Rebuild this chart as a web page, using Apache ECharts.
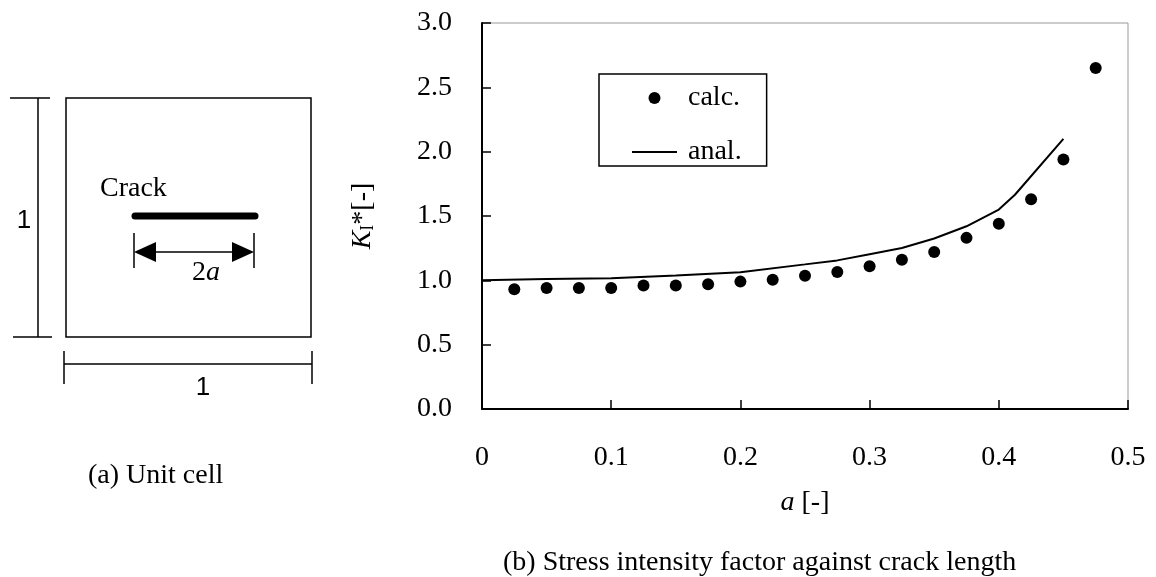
<!DOCTYPE html>
<html>
<head>
<meta charset="utf-8">
<style>
html,body{margin:0;padding:0;background:#fff;}
#chart{width:1156px;height:577px;}
</style>
<script src="https://cdn.jsdelivr.net/npm/echarts@6/dist/echarts.min.js"></script>
</head>
<body>
<div id="chart"></div>
<script>
// ---- data ----
const calcA = [0.025, 0.05, 0.075, 0.1, 0.125, 0.15, 0.175, 0.2, 0.225, 0.25, 0.275, 0.3, 0.325, 0.35, 0.375, 0.4, 0.425, 0.45, 0.475];
const calcK = [0.93, 0.94, 0.94, 0.94, 0.96, 0.96, 0.97, 0.99, 1.005, 1.035, 1.065, 1.11, 1.16, 1.22, 1.33, 1.44, 1.63, 1.94, 2.65];
const analA = [0, 0.05, 0.1, 0.15, 0.2, 0.25, 0.275, 0.3, 0.325, 0.35, 0.375, 0.4, 0.4125, 0.45];
const analK = [1.0, 1.01, 1.017, 1.037, 1.063, 1.124, 1.155, 1.203, 1.251, 1.325, 1.42, 1.55, 1.665, 2.10];
const xTicks = [0, 0.1, 0.2, 0.3, 0.4, 0.5];
const yTicks = [0, 0.5, 1.0, 1.5, 2.0, 2.5, 3.0];
const seriesNames = ['calc.', 'anal.'];

const SERIF = '"Liberation Serif", "Times New Roman", serif';
const SANS = '"Liberation Sans", Arial, sans-serif';

const chart = echarts.init(document.getElementById('chart'), null, {renderer: 'canvas'});

const option = {
  animation: false,
  backgroundColor: '#fff',
  textStyle: {fontFamily: SERIF, color: '#000'},
  grid: {left: 482, right: 28, top: 23, bottom: 168, show: true, borderColor: '#999', borderWidth: 1, backgroundColor: 'transparent'},
  xAxis: {
    type: 'value', min: xTicks[0], max: xTicks[xTicks.length - 1], interval: 0.1,
    axisLine: {show: true, onZero: false, lineStyle: {color: '#000', width: 2}},
    axisTick: {show: true, inside: true, length: 9, lineStyle: {color: '#000', width: 1.5}},
    splitLine: {show: false},
    axisLabel: {margin: 35, fontSize: 28, fontFamily: SERIF, color: '#000',
      formatter: v => (v === 0 ? '0' : v.toFixed(1))},
    name: '{i|a}{n| [-]}', nameLocation: 'middle', nameGap: 80,
    nameTextStyle: {rich: {
      i: {fontFamily: SERIF, fontSize: 28, fontStyle: 'italic', color: '#000'},
      n: {fontFamily: SERIF, fontSize: 28, color: '#000'}
    }}
  },
  yAxis: {
    type: 'value', min: yTicks[0], max: yTicks[yTicks.length - 1], interval: 0.5,
    axisLine: {show: true, onZero: false, lineStyle: {color: '#000', width: 2}},
    axisTick: {show: true, inside: true, length: 9, lineStyle: {color: '#000', width: 1.5}},
    splitLine: {show: false},
    axisLabel: {margin: 30, fontSize: 28, fontFamily: SERIF, color: '#000',
      formatter: v => v.toFixed(1)},
    name: '{k|K}{s|I}{r|*[-]}', nameLocation: 'middle', nameGap: 105, nameRotate: 90,
    nameTextStyle: {rich: {
      k: {fontFamily: SERIF, fontSize: 28, fontStyle: 'italic', color: '#000', lineHeight: 30, verticalAlign: 'bottom'},
      s: {fontFamily: SERIF, fontSize: 18, color: '#000', lineHeight: 16, verticalAlign: 'bottom'},
      r: {fontFamily: SERIF, fontSize: 28, color: '#000', lineHeight: 30, verticalAlign: 'bottom'}
    }}
  },
  legend: {
    orient: 'vertical', left: 599, top: 74,
    padding: [10, 25, 0, 33], itemGap: 26, itemWidth: 45, itemHeight: 12,
    borderColor: '#000', borderWidth: 1.5, borderRadius: 0,
    textStyle: {fontFamily: SERIF, fontSize: 28, color: '#000', lineHeight: 28, padding: [0, 0, 0, 6]},
    data: [
      {name: seriesNames[0], icon: 'circle'},
      {name: seriesNames[1], icon: 'path://M0,0 H45 V2 H0 Z'}
    ]
  },
  series: [
    {
      name: seriesNames[0], type: 'scatter', symbol: 'circle', symbolSize: 12,
      itemStyle: {color: '#000', opacity: 1},
      data: calcA.map((a, i) => [a, calcK[i]])
    },
    {
      name: seriesNames[1], type: 'line', symbol: 'none', showSymbol: false,
      lineStyle: {color: '#000', width: 2}, itemStyle: {color: '#000'},
      data: analA.map((a, i) => [a, analK[i]])
    }
  ],
  graphic: [
    // unit cell square
    {type: 'rect', shape: {x: 66, y: 98, width: 245, height: 239}, style: {fill: 'none', stroke: '#000', lineWidth: 1.5}},
    // vertical dimension
    {type: 'line', shape: {x1: 38, y1: 98, x2: 38, y2: 337}, style: {stroke: '#000', lineWidth: 1.5}},
    {type: 'line', shape: {x1: 10, y1: 98, x2: 50, y2: 98}, style: {stroke: '#000', lineWidth: 1.5}},
    {type: 'line', shape: {x1: 13, y1: 337, x2: 52, y2: 337}, style: {stroke: '#000', lineWidth: 1.5}},
    {type: 'text', style: {text: '1', x: 24, y: 221, textAlign: 'center', textVerticalAlign: 'middle', font: '26px ' + SANS, fill: '#000'}},
    // horizontal dimension
    {type: 'line', shape: {x1: 64, y1: 364, x2: 312, y2: 364}, style: {stroke: '#000', lineWidth: 1.5}},
    {type: 'line', shape: {x1: 64, y1: 351, x2: 64, y2: 384}, style: {stroke: '#000', lineWidth: 1.5}},
    {type: 'line', shape: {x1: 312, y1: 351, x2: 312, y2: 384}, style: {stroke: '#000', lineWidth: 1.5}},
    {type: 'text', style: {text: '1', x: 203, y: 388, textAlign: 'center', textVerticalAlign: 'middle', font: '26px ' + SANS, fill: '#000'}},
    // crack
    {type: 'line', shape: {x1: 135, y1: 216, x2: 255, y2: 216}, style: {stroke: '#000', lineWidth: 7, lineCap: 'round'}},
    {type: 'text', style: {text: 'Crack', x: 100, y: 189, textAlign: 'left', textVerticalAlign: 'middle', font: '28px ' + SERIF, fill: '#000'}},
    // 2a dimension
    {type: 'line', shape: {x1: 134, y1: 233, x2: 134, y2: 268}, style: {stroke: '#000', lineWidth: 1.5}},
    {type: 'line', shape: {x1: 254, y1: 233, x2: 254, y2: 268}, style: {stroke: '#000', lineWidth: 1.5}},
    {type: 'line', shape: {x1: 150, y1: 252, x2: 238, y2: 252}, style: {stroke: '#000', lineWidth: 1.5}},
    {type: 'polygon', shape: {points: [[134, 252], [156, 242], [156, 262]]}, style: {fill: '#000'}},
    {type: 'polygon', shape: {points: [[254, 252], [232, 242], [232, 262]]}, style: {fill: '#000'}},
    {type: 'text', style: {text: '{n|2}{i|a}', x: 192, y: 273, textAlign: 'left', textVerticalAlign: 'middle',
      rich: {n: {font: '28px ' + SERIF, fill: '#000'}, i: {font: 'italic 28px ' + SERIF, fill: '#000'}}}},
    {type: 'rect', z: 100, shape: {x: 180, y: 285, width: 50, height: 14}, style: {fill: '#fff'}},
    // captions
    {type: 'text', style: {text: '(a) Unit cell', x: 88, y: 476, textAlign: 'left', textVerticalAlign: 'middle', font: '28px ' + SERIF, fill: '#000'}},
    {type: 'text', style: {text: '(b) Stress intensity factor against crack length', x: 503, y: 563, textAlign: 'left', textVerticalAlign: 'middle', font: '28px ' + SERIF, fill: '#000'}}
  ]
};
chart.setOption(option);
</script>
</body>
</html>
